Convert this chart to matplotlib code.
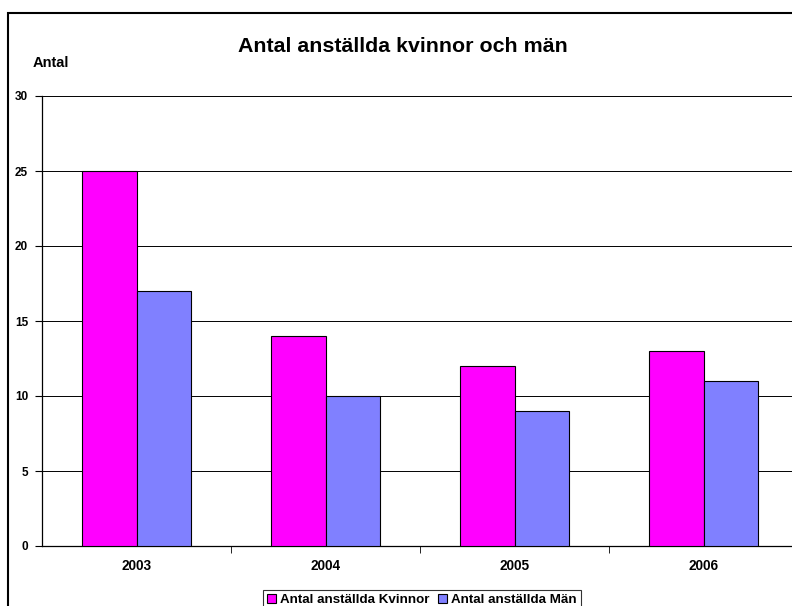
import numpy as np
import matplotlib
matplotlib.use("Agg")
import matplotlib.pyplot as plt
from matplotlib.patches import Rectangle

plt.rcParams["font.family"] = ["Liberation Sans", "DejaVu Sans"]

years = ["2003", "2004", "2005", "2006"]
kvinnor = [25, 14, 12, 13]
man = [17, 10, 9, 11]
series_names = ["Antal anställda Kvinnor", "Antal anställda Män"]
yticks = [0, 5, 10, 15, 20, 25, 30]

W, H = 792, 606
fig = plt.figure(figsize=(W / 100, H / 100), dpi=100)
ax = fig.add_axes([42 / W, 1 - 546 / H, 756 / W, 450 / H])

x = np.arange(len(years))
bw = 0.29
ax.bar(x - bw / 2, kvinnor, bw, color="#FF00FF", edgecolor="black",
       linewidth=0.8, label=series_names[0], zorder=3)
ax.bar(x + bw / 2, man, bw, color="#8080FF", edgecolor="black",
       linewidth=0.8, label=series_names[1], zorder=3)

ax.set_xlim(-0.5, len(years) - 0.5)
ax.set_ylim(0, 30)
ax.set_yticks(yticks)
ax.set_yticklabels([str(v) for v in yticks], fontsize=8.5, fontweight="bold")
ax.set_xticks(x)
ax.set_xticklabels(years, fontsize=9.8, fontweight="bold")
ax.tick_params(axis="x", length=0, pad=9)
ax.set_xticks(np.arange(len(years)) + 0.5, minor=True)
ax.tick_params(axis="x", which="minor", length=5, direction="out")
ax.tick_params(axis="y", length=5, direction="out", pad=5)

ax.grid(axis="y", color="black", linewidth=0.7, zorder=0)
for s in ["top", "right"]:
    ax.spines[s].set_visible(False)
ax.spines["left"].set_linewidth(0.9)
ax.spines["bottom"].set_linewidth(0.9)

fig.text(403 / W, 1 - 46 / H, "Antal anställda kvinnor och män",
         ha="center", va="center", fontsize=15.4, fontweight="bold")
fig.text(33 / W, 1 - 63 / H, "Antal", ha="left", va="center",
         fontsize=10.5, fontweight="bold")

leg = fig.legend(loc="center", bbox_to_anchor=(422 / W, 1 - 600 / H),
                 ncol=2, prop={"weight": "bold", "size": 9.6},
                 frameon=True, fancybox=False, handlelength=0.7,
                 handleheight=0.7, handletextpad=0.3, columnspacing=0.6,
                 borderpad=0.3)
leg.get_frame().set_edgecolor("black")
leg.get_frame().set_linewidth(0.8)

# outer chart border (cut off on the right and bottom)
fig.patches.append(Rectangle((8 / W, -0.1), 2, 1 - 13 / H + 0.1,
                             transform=fig.transFigure, fill=False,
                             edgecolor="black", linewidth=1.5))

fig.savefig("out.png", dpi=100)
